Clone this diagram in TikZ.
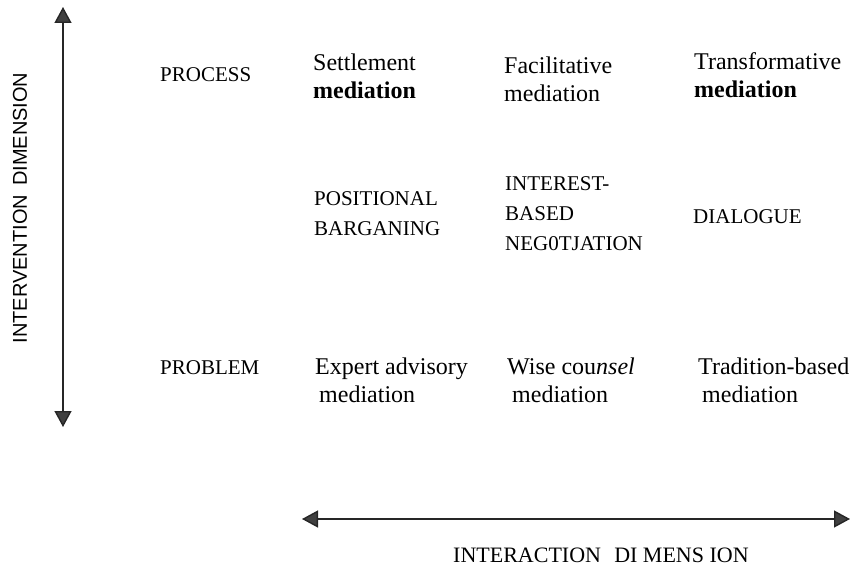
\documentclass[tikz,border=0pt]{standalone}
\usepackage{fontspec}
\setmainfont{Liberation Serif}
\newfontfamily\sansf{Liberation Sans}
\usetikzlibrary{arrows.meta}
\begin{document}
\begin{tikzpicture}[x=1pt,y=-1pt,
  lbl/.style={anchor=base west, inner sep=0pt, align=left},
  capsf/.style={lbl, font=\fontsize{21}{30}\selectfont},
  mixf/.style={lbl, font=\fontsize{24}{28}\selectfont},
  axis/.style={line width=1.4pt, draw=black!85, {Triangle[width=17pt,length=16pt,fill=black!75]}-{Triangle[width=17pt,length=16pt,fill=black!75]}}
]
\useasboundingbox (0,0) rectangle (851,567);
% row labels and cells (anchored at the baseline of the last line)
\node[capsf] (process) at (160,82) {PROCESS};
\node[mixf] (settle) at (313,99) {Settlement\\\textbf{mediation}};
\node[mixf] (facil) at (504,102) {Facilitative\\mediation};
\node[mixf] (transf) at (694,98) {Transformative\\\textbf{mediation}};
\node[capsf] (posit) at (314,235) {POSITIONAL\\BARGANING};
\node[capsf] (inter) at (505,250) {INTEREST-\\BASED\\NEG0TJATION};
\node[capsf] (dialog) at (693,223) {DIALOGUE};
\node[capsf] (problem) at (160,374) {PROBLEM};
\node[mixf] (expert) at (315,402) {Expert advisory\\\hspace*{4pt}mediation};
\node[mixf] (wise) at (507,402) {Wise cou\textit{nsel}\\\hspace*{5pt}mediation};
\node[mixf] (trad) at (698,402) {Tradition-based\\\hspace*{4pt}mediation};
% axes
\coordinate (vt) at (63,7);
\coordinate (vb) at (63,427);
\draw[axis] (vt) -- (vb);
\coordinate (hl) at (302,519);
\coordinate (hr) at (850,519);
\draw[axis] (hl) -- (hr);
\node[font=\sansf\fontsize{20}{20}\selectfont, rotate=90, inner sep=0pt] (vlab) at (20,208) {INTERVENTION\hspace{0.45em}DIMENSION};
\node[lbl, font=\fontsize{22}{22}\selectfont] (hlab) at (453,562) {INTERACTION\hspace{0.6em}DI MENS ION};
\end{tikzpicture}
\end{document}
